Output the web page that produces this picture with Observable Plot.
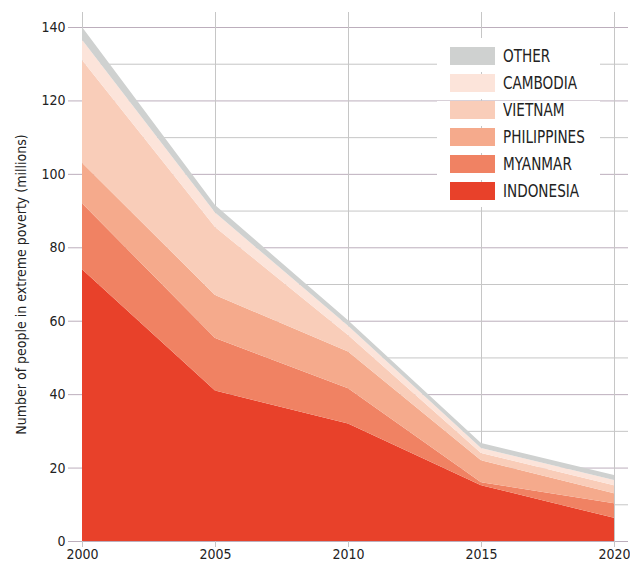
<!DOCTYPE html>
<html>
<head>
<meta charset="utf-8">
<script src="https://cdn.jsdelivr.net/npm/d3@7"></script>
<script src="https://cdn.jsdelivr.net/npm/@observablehq/plot@0.6"></script>
<style>
  html, body { margin: 0; padding: 0; background: #fff; }
  #wrap { position: relative; width: 630px; height: 565px; font-family: "DejaVu Sans Condensed", "DejaVu Sans", sans-serif; font-stretch: condensed; }
  #legend { position: absolute; left: 437px; top: 38px; width: 163px; }
  #legend .pad { height: 9px; background: #fff; }
  #legend .row { height: 25px; margin-bottom: 2px; background: #fff; display: flex; align-items: flex-start; }
  #legend .sw { width: 45px; height: 18px; margin-left: 13px; flex: none; }
  #legend .lab { margin-left: 8px; font-size: 18px; line-height: 18px; color: #222; display: inline-block; transform: scaleX(0.84); transform-origin: left center; white-space: nowrap; }
</style>
</head>
<body>
<div id="wrap"></div>
<script>
const years = [2000, 2005, 2010, 2015, 2020];
const countries = ["Indonesia", "Myanmar", "Philippines", "Vietnam", "Cambodia", "Other"];
const legendOrder = ["Other", "Cambodia", "Vietnam", "Philippines", "Myanmar", "Indonesia"];
const colors = ["#e8412a", "#f08263", "#f5aa8c", "#f9cdb9", "#fce4da", "#cfd1d0"];
const indonesia   = [74, 41, 32, 15.2, 6.3];
const myanmar     = [18, 14.3, 9.6, 0.8, 4];
const philippines = [11, 11.7, 10, 6, 2.7];
const vietnam     = [28, 18.5, 4.5, 2, 2.2];
const cambodia    = [5.5, 4, 2.5, 1.3, 1.4];
const other       = [3.5, 2, 1.5, 1.4, 1.4];
const series = [indonesia, myanmar, philippines, vietnam, cambodia, other];
const yTicksMajor = [0, 20, 40, 60, 80, 100, 120, 140];
const yTicksMinor = [10, 30, 50, 70, 90, 110, 130];

const data = [];
countries.forEach((c, i) => years.forEach((yr, j) => data.push({country: c, year: yr, value: series[i][j]})));

const W = 630, H = 565, mL = 82, mR = 16, mT = 27, mB = 24;
const plotW = W - mL - mR;

const chart = Plot.plot({
  width: W, height: H,
  marginLeft: mL, marginRight: mR, marginTop: mT, marginBottom: mB,
  style: {fontFamily: '"DejaVu Sans Condensed", "DejaVu Sans", sans-serif', fontSize: "14px", color: "#222", background: "transparent"},
  x: {domain: [2000, 2020]},
  y: {domain: [0, 140]},
  color: {domain: countries, range: colors},
  marks: [
    Plot.axisY({ticks: yTicksMinor, tickSize: -(plotW + 14), tickFormat: () => "", label: null, stroke: "#c6c6c6"}),
    Plot.axisY({ticks: yTicksMajor, tickSize: -(plotW + 14), tickFormat: () => "", label: null, stroke: "#bcaebc"}),
    Plot.axisX({ticks: years, tickSize: -(H - mB - 12), tickFormat: () => "", label: null, stroke: "#c6c6c6"}),
    Plot.axisX({ticks: years, tickSize: 6, tickPadding: 2, tickFormat: "d", label: null, stroke: "#c6c6c6", fontSize: 14}),
    Plot.areaY(data, {x: "year", y: "value", fill: "country", order: countries}),
    Plot.axisY({ticks: yTicksMajor, tickSize: 14, tickPadding: 3, stroke: "#bcaebc", fontSize: 14,
      label: "Number of people in extreme poverty (millions)", labelAnchor: "center", labelArrow: "none", labelOffset: 66})
  ]
});
const wrap = document.getElementById("wrap");
wrap.appendChild(chart);

const legend = document.createElement("div");
legend.id = "legend";
legend.innerHTML = '<div class="pad"></div>' + legendOrder.map(c =>
  `<div class="row"><div class="sw" style="background:${colors[countries.indexOf(c)]}"></div><div class="lab">${c.toUpperCase()}</div></div>`
).join("");
wrap.appendChild(legend);
</script>
</body>
</html>
